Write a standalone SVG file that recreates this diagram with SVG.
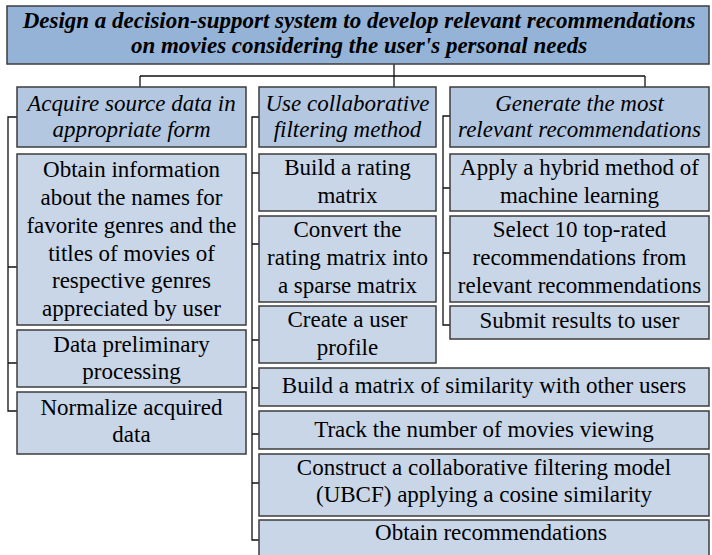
<svg xmlns="http://www.w3.org/2000/svg" width="712" height="555" viewBox="0 0 712 555">
<rect width="712" height="555" fill="#ffffff"/>
<g id="connectors" fill="none" stroke="#111" stroke-width="1.3">
<path d="M394,64 V76 M140,76 H645 M140,76 V87 M394,76 V87 M645,76 V87"/>
<path d="M17,117 H8 V411 H17 M8,267 H17 M8,363 H17"/>
<path d="M259,117 H252 V540 H259 M252,173 H259 M252,244 H259 M252,340 H259 M252,388 H259 M252,434 H259 M252,483 H259"/>
<path d="M450,116 H443 V325 H450 M443,188 H450 M443,253 H450"/>
</g>
<g id="n-title"><rect x="7" y="6" width="702" height="58" fill="#95b3d7" stroke="#3c3c3c" stroke-width="1.5"/>
<text x="359" y="28" font-family="Liberation Serif" font-size="23" text-anchor="middle" font-weight="bold" font-style="italic">Design a decision-support system to develop relevant recommendations</text>
<text x="359" y="53" font-family="Liberation Serif" font-size="23" text-anchor="middle" font-weight="bold" font-style="italic">on movies considering the user's personal needs</text></g>
<g id="n-acquire"><rect x="17" y="87" width="229" height="60" fill="#b4c7e1" stroke="#3c3c3c" stroke-width="1.5"/>
<text x="131.5" y="111" font-family="Liberation Serif" font-size="23" text-anchor="middle" font-style="italic">Acquire source data in</text>
<text x="131.5" y="137" font-family="Liberation Serif" font-size="23" text-anchor="middle" font-style="italic">appropriate form</text></g>
<g id="n-collab"><rect x="259" y="87" width="177" height="60" fill="#b4c7e1" stroke="#3c3c3c" stroke-width="1.5"/>
<text x="347.5" y="111" font-family="Liberation Serif" font-size="23" text-anchor="middle" font-style="italic">Use collaborative</text>
<text x="347.5" y="137" font-family="Liberation Serif" font-size="23" text-anchor="middle" font-style="italic">filtering method</text></g>
<g id="n-generate"><rect x="450" y="87" width="259" height="60" fill="#b4c7e1" stroke="#3c3c3c" stroke-width="1.5"/>
<text x="579.5" y="111" font-family="Liberation Serif" font-size="23" text-anchor="middle" font-style="italic">Generate the most</text>
<text x="579.5" y="137" font-family="Liberation Serif" font-size="23" text-anchor="middle" font-style="italic">relevant recommendations</text></g>
<g id="n-obtain-info"><rect x="17" y="154" width="229" height="171" fill="#c8d6e8" stroke="#3c3c3c" stroke-width="1.5"/>
<text x="131.5" y="177" font-family="Liberation Serif" font-size="23" text-anchor="middle">Obtain information</text>
<text x="131.5" y="205" font-family="Liberation Serif" font-size="23" text-anchor="middle">about the names for</text>
<text x="131.5" y="233" font-family="Liberation Serif" font-size="23" text-anchor="middle">favorite genres and the</text>
<text x="131.5" y="261" font-family="Liberation Serif" font-size="23" text-anchor="middle">titles of movies of</text>
<text x="131.5" y="288" font-family="Liberation Serif" font-size="23" text-anchor="middle">respective genres</text>
<text x="131.5" y="316" font-family="Liberation Serif" font-size="23" text-anchor="middle">appreciated by user</text></g>
<g id="n-preliminary"><rect x="17" y="330" width="229" height="57" fill="#c8d6e8" stroke="#3c3c3c" stroke-width="1.5"/>
<text x="131.5" y="352" font-family="Liberation Serif" font-size="23" text-anchor="middle">Data preliminary</text>
<text x="131.5" y="379" font-family="Liberation Serif" font-size="23" text-anchor="middle">processing</text></g>
<g id="n-normalize"><rect x="17" y="392" width="229" height="62" fill="#c8d6e8" stroke="#3c3c3c" stroke-width="1.5"/>
<text x="131.5" y="415" font-family="Liberation Serif" font-size="23" text-anchor="middle">Normalize acquired</text>
<text x="131.5" y="442" font-family="Liberation Serif" font-size="23" text-anchor="middle">data</text></g>
<g id="n-rating"><rect x="259" y="154" width="177" height="57" fill="#c8d6e8" stroke="#3c3c3c" stroke-width="1.5"/>
<text x="347.5" y="175" font-family="Liberation Serif" font-size="23" text-anchor="middle">Build a rating</text>
<text x="347.5" y="203" font-family="Liberation Serif" font-size="23" text-anchor="middle">matrix</text></g>
<g id="n-convert"><rect x="259" y="216" width="177" height="86" fill="#c8d6e8" stroke="#3c3c3c" stroke-width="1.5"/>
<text x="347.5" y="237" font-family="Liberation Serif" font-size="23" text-anchor="middle">Convert the</text>
<text x="347.5" y="265" font-family="Liberation Serif" font-size="23" text-anchor="middle">rating matrix into</text>
<text x="347.5" y="293" font-family="Liberation Serif" font-size="23" text-anchor="middle">a sparse matrix</text></g>
<g id="n-profile"><rect x="259" y="306" width="177" height="57" fill="#c8d6e8" stroke="#3c3c3c" stroke-width="1.5"/>
<text x="347.5" y="327" font-family="Liberation Serif" font-size="23" text-anchor="middle">Create a user</text>
<text x="347.5" y="355" font-family="Liberation Serif" font-size="23" text-anchor="middle">profile</text></g>
<g id="n-hybrid"><rect x="450" y="154" width="259" height="57" fill="#c8d6e8" stroke="#3c3c3c" stroke-width="1.5"/>
<text x="579.5" y="175" font-family="Liberation Serif" font-size="23" text-anchor="middle">Apply a hybrid method of</text>
<text x="579.5" y="203" font-family="Liberation Serif" font-size="23" text-anchor="middle">machine learning</text></g>
<g id="n-select"><rect x="450" y="216" width="259" height="86" fill="#c8d6e8" stroke="#3c3c3c" stroke-width="1.5"/>
<text x="579.5" y="237" font-family="Liberation Serif" font-size="23" text-anchor="middle">Select 10 top-rated</text>
<text x="579.5" y="265" font-family="Liberation Serif" font-size="23" text-anchor="middle">recommendations from</text>
<text x="579.5" y="293" font-family="Liberation Serif" font-size="23" text-anchor="middle">relevant recommendations</text></g>
<g id="n-submit"><rect x="450" y="306" width="259" height="33" fill="#c8d6e8" stroke="#3c3c3c" stroke-width="1.5"/>
<text x="579.5" y="328" font-family="Liberation Serif" font-size="23" text-anchor="middle">Submit results to user</text></g>
<g id="n-similarity"><rect x="259" y="368" width="450" height="38" fill="#c8d6e8" stroke="#3c3c3c" stroke-width="1.5"/>
<text x="484" y="393" font-family="Liberation Serif" font-size="23" text-anchor="middle">Build a matrix of similarity with other users</text></g>
<g id="n-track"><rect x="259" y="411" width="450" height="38" fill="#c8d6e8" stroke="#3c3c3c" stroke-width="1.5"/>
<text x="484" y="437" font-family="Liberation Serif" font-size="23" text-anchor="middle">Track the number of movies viewing</text></g>
<g id="n-construct"><rect x="259" y="454" width="450" height="62" fill="#c8d6e8" stroke="#3c3c3c" stroke-width="1.5"/>
<text x="484" y="475" font-family="Liberation Serif" font-size="23" text-anchor="middle">Construct a collaborative filtering model</text>
<text x="484" y="502" font-family="Liberation Serif" font-size="23" text-anchor="middle">(UBCF) applying a cosine similarity</text></g>
<g id="n-obtain-rec"><rect x="259" y="520" width="450" height="40" fill="#c8d6e8" stroke="#3c3c3c" stroke-width="1.5"/>
<text x="491" y="540" font-family="Liberation Serif" font-size="23" text-anchor="middle">Obtain recommendations</text></g>
</svg>
